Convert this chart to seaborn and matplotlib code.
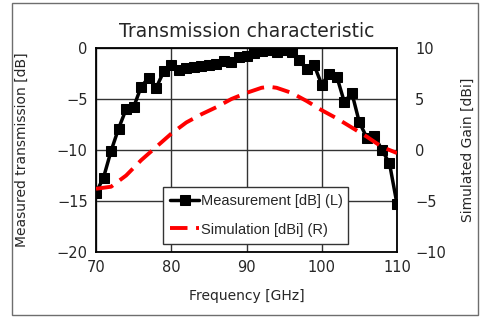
import matplotlib
matplotlib.use("Agg")
import matplotlib.pyplot as plt
import seaborn as sns
import pandas as pd
from matplotlib.patches import Rectangle

# Measured transmission [dB], left axis, 1 GHz steps
meas_freq = list(range(70, 111))
meas_db = [-14.2, -12.7, -10.1, -7.9, -6.0, -5.8, -3.8, -2.9, -3.9, -2.3,
           -1.7, -2.2, -2.0, -1.9, -1.8, -1.7, -1.6, -1.3, -1.4, -0.9,
           -0.8, -0.5, -0.3, -0.2, -0.4, -0.2, -0.4, -1.2, -2.1, -1.7,
           -3.6, -2.5, -2.8, -5.3, -4.4, -7.3, -8.8, -8.6, -10.0, -11.3,
           -15.3]

# Simulated gain [dBi], right axis
sim_freq = [70, 72, 74, 76, 78, 80, 82, 84, 86, 88, 90, 92, 93, 94, 96,
            98, 100, 102, 104, 106, 108, 110]
sim_dbi = [-3.8, -3.6, -2.5, -1.0, 0.3, 1.6, 2.7, 3.5, 4.2, 5.0, 5.6, 6.1,
           6.2, 6.1, 5.6, 4.8, 3.9, 3.1, 2.2, 1.3, 0.3, -0.3]

meas = pd.DataFrame({"Frequency": meas_freq, "Value": meas_db})
sim = pd.DataFrame({"Frequency": sim_freq, "Value": sim_dbi})

sns.set_style("white")
plt.rcParams["font.family"] = ["DejaVu Sans"]

fig = plt.figure(figsize=(4.81, 3.17), dpi=100)
ax = fig.add_axes([96 / 481, 1 - 252 / 317, 301 / 481, 204 / 317])

# Outer chart border
fig.patches.append(Rectangle((12 / 481, 2 / 317), 466 / 481, 312 / 317,
                             transform=fig.transFigure, fill=False,
                             edgecolor="#6e6e6e", linewidth=1))

sns.lineplot(data=meas, x="Frequency", y="Value", ax=ax, color="black",
             marker="s", markersize=7.5, linewidth=2.5, markeredgecolor="black")

ax.set_xlim(70, 110)
ax.set_ylim(-20, 0)
ax.set_xticks([70, 80, 90, 100, 110])
ax.set_yticks([-20, -15, -10, -5, 0])
ax.grid(True, color="#333333", linewidth=1)
ax.tick_params(labelsize=10.5, length=0, pad=6)
for s in ax.spines.values():
    s.set_color("black")
    s.set_linewidth(1.3)
ax.set_xlabel("Frequency [GHz]", fontsize=10, labelpad=10)
ax.set_ylabel("Measured transmission [dB]", fontsize=10, labelpad=20)
ax.set_title("Transmission characteristic", fontsize=13.5, pad=8)

ax2 = ax.twinx()
sns.lineplot(data=sim, x="Frequency", y="Value", ax=ax2, color="#ff0000",
             linewidth=2.8)
ax2.lines[0].set_dashes([4.5, 2.2])
ax2.set_ylim(-10, 10)
ax2.set_yticks([-10, -5, 0, 5, 10])
ax2.tick_params(labelsize=10.5, length=0, pad=13)
ax2.set_ylabel("Simulated Gain [dBi]", fontsize=10, labelpad=11)
for s in ax2.spines.values():
    s.set_visible(False)

handles = [ax.lines[0], ax2.lines[0]]
labels = ["Measurement [dB] (L)", "Simulation [dBi] (R)"]
leg = ax2.legend(handles, labels, loc="lower left",
                 bbox_to_anchor=(0.222, 0.04, 0.615, 0.29), mode="expand",
                 frameon=True, fancybox=False, framealpha=1, edgecolor="#333333",
                 prop={"family": "Liberation Sans", "size": 10.5},
                 handlelength=2.0, handletextpad=0.15, borderaxespad=0,
                 borderpad=0.5, labelspacing=1.0)
leg.get_frame().set_linewidth(1)

fig.savefig("out.png", dpi=100)
